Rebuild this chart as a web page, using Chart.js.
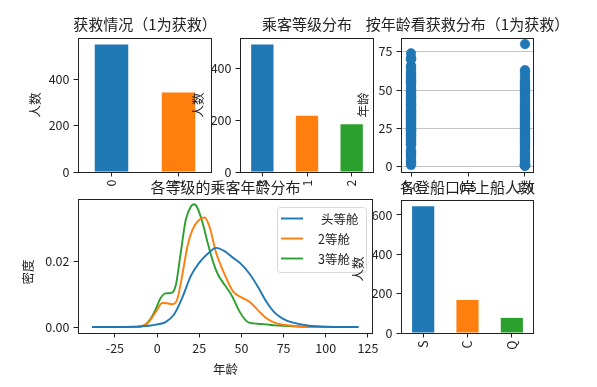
<!DOCTYPE html>
<html>
<head>
<meta charset="utf-8">
<script src="https://cdn.jsdelivr.net/npm/chart.js@4.4.1/dist/chart.umd.min.js"></script>
<style>
  html, body { margin: 0; padding: 0; background: #fff; }
  #wrap { position: relative; width: 597px; height: 387px; overflow: hidden; }
  #wrap canvas { position: absolute; left: 0; top: 0; }
</style>
</head>
<body>
<div id="wrap">
  <canvas id="c1" width="597" height="387"></canvas>
  <canvas id="c2" width="597" height="387"></canvas>
  <canvas id="c3" width="597" height="387"></canvas>
  <canvas id="c4" width="597" height="387"></canvas>
  <canvas id="c5" width="597" height="387"></canvas>
</div>
<script>
// data (Titanic train set)
const survivedLabels = ['0', '1'];
const survivedCounts = [549, 342];

const pclassLabels = ['3', '1', '2'];
const pclassCounts = [491, 216, 184];

const embarkedLabels = ['S', 'C', 'Q'];
const embarkedCounts = [644, 168, 77];

// ages of passengers by survival (distinct values)
const agesDied = [1, 2, 3, 4, 6, 7, 8, 9, 10, 11, 14, 14.5, 15, 16, 17, 18, 19, 20, 20.5, 21, 22, 23, 23.5, 24, 24.5,
  25, 26, 27, 28, 28.5, 29, 30, 30.5, 31, 32, 32.5, 33, 34, 34.5, 35, 36, 36.5, 37, 38, 39, 40, 40.5, 41, 42, 43, 44,
  45, 45.5, 46, 47, 48, 49, 50, 51, 52, 54, 55, 55.5, 56, 57, 58, 59, 60, 61, 62, 64, 65, 66, 70, 70.5, 71, 74];
const agesSurvived = [0.42, 0.67, 0.75, 0.83, 0.92, 1, 2, 3, 4, 5, 6, 7, 8, 9, 11, 12, 13, 14, 15, 16, 17, 18, 19, 20,
  21, 22, 23, 24, 25, 26, 27, 28, 29, 30, 31, 32, 32.5, 33, 34, 35, 36, 37, 38, 39, 40, 41, 42, 43, 44, 45, 47, 48, 49,
  50, 51, 52, 53, 54, 55, 56, 58, 60, 62, 63, 80];

// age density curves per class
const kdeLabels = ['头等舱', '2等舱', '3等舱'];
const kde1Age = [-38.6, -25, -15, -10, -5, 0, 5, 10, 15, 20, 25, 30, 35, 40, 45, 50, 55, 60, 65, 70, 75, 80, 90, 100, 119.5];
const kde1Den = [0, 0, 0.0001, 0.0002, 0.0004, 0.0008, 0.0015, 0.0038, 0.0090, 0.0155, 0.0195, 0.0222, 0.0240, 0.0230,
  0.0210, 0.0190, 0.0160, 0.0120, 0.0075, 0.0042, 0.0024, 0.0014, 0.0004, 0.0001, 0];
const kde2Age = [-34, -20, -10, -5, 0, 3, 6, 9, 12, 15, 18, 21, 25, 28, 31, 35, 40, 45, 50, 55, 60, 65, 70, 75, 80, 90, 104.7];
const kde2Den = [0, 0, 0.0002, 0.0015, 0.0052, 0.0073, 0.0072, 0.0069, 0.0085, 0.0160, 0.0245, 0.0295, 0.0325, 0.0332,
  0.0305, 0.0225, 0.0160, 0.0108, 0.0090, 0.0076, 0.0050, 0.0026, 0.0013, 0.0007, 0.0004, 0.0001, 0];
const kde3Age = [-36.4, -20, -10, -7, -4, -1, 2, 5, 8, 11, 14, 17, 20, 22, 24, 27, 30, 33, 36, 40, 44, 49, 53, 57, 63,
  70, 80, 90, 110.8];
const kde3Den = [0, 0, 0.0001, 0.0006, 0.0024, 0.0052, 0.0087, 0.0102, 0.0103, 0.0125, 0.0225, 0.0325, 0.0365, 0.0372,
  0.0360, 0.0315, 0.0255, 0.0200, 0.0160, 0.0128, 0.0098, 0.0046, 0.0018, 0.0011, 0.0009, 0.0005, 0.0002, 0.0001, 0];

// tick labels
const survTicks = [0, 200, 400];
const pclassTicks = [0, 200, 400];
const ageTicks = [0, 25, 50, 75];
const survXTicks = [0, 0.5, 1];
const kdeXTicks = [-25, 0, 25, 50, 75, 100, 125];
const kdeYTicks = [0, 0.02];
const embTicks = [0, 200, 400, 600];

const W = 597, H = 387;
const FONT = "'Noto Sans CJK SC', 'DejaVu Sans', sans-serif";
const INK = '#222';
const COLORS = ['#1f77b4', '#ff7f0e', '#2ca02c'];

Chart.defaults.font.family = FONT;
Chart.defaults.font.size = 12.5;
Chart.defaults.color = INK;

function toPoints(xs, ys) {
  return xs.map((x, i) => ({ x: x, y: ys[i] }));
}

function fixTicks(values) {
  return scale => { scale.ticks = values.map(v => ({ value: v })); };
}

function xAxis(box, extra) {
  return Object.assign({
    afterFit: s => { s.height = H - box.b; s.paddingLeft = 0; s.paddingRight = 0; },
    border: { display: false },
    grid: { drawOnChartArea: false, offset: false, tickLength: 4.5, tickColor: INK },
    ticks: { padding: 3, autoSkip: false, maxRotation: 0, minRotation: 0 }
  }, extra);
}

function yAxis(box, extra) {
  return Object.assign({
    afterFit: s => { s.width = box.l; s.paddingTop = 0; s.paddingBottom = 0; },
    border: { display: false },
    grid: { drawOnChartArea: false, tickLength: 4.5, tickColor: INK },
    ticks: { padding: 4 }
  }, extra);
}

// frame, title and axis labels drawn like matplotlib
function decor(d) {
  return {
    id: 'decor',
    afterDraw(chart) {
      const ctx = chart.ctx, a = chart.chartArea;
      ctx.save();
      ctx.strokeStyle = INK;
      ctx.lineWidth = 1;
      ctx.strokeRect(a.left + 0.5, a.top + 0.5, a.right - a.left - 1, a.bottom - a.top);
      if (d.extra) d.extra(ctx, a);
      ctx.fillStyle = INK;
      ctx.textAlign = 'center';
      ctx.textBaseline = 'middle';
      ctx.font = '15px ' + FONT;
      ctx.fillText(d.title, (a.left + a.right) / 2, d.titleY);
      ctx.font = '12.5px ' + FONT;
      if (d.xlabel) ctx.fillText(d.xlabel, (a.left + a.right) / 2, d.xlabelY);
      if (d.ylabel) {
        ctx.translate(d.ylabelX, d.ylabelY || (a.top + a.bottom) / 2);
        ctx.rotate(-Math.PI / 2);
        ctx.fillText(d.ylabel, 0, 0);
      }
      ctx.restore();
    }
  };
}

function baseOptions(box) {
  return {
    responsive: false,
    animation: false,
    devicePixelRatio: 1,
    events: [],
    layout: { padding: { top: box.t, right: W - box.r, left: 0, bottom: 0 } },
    plugins: { legend: { display: false }, tooltip: { enabled: false }, title: { display: false } }
  };
}

function barChart(id, box, labels, counts, ticks, ymax, d) {
  const opts = baseOptions(box);
  opts.scales = {
    x: xAxis(box, { ticks: { padding: 3, autoSkip: false, maxRotation: 90, minRotation: 90 } }),
    y: yAxis(box, { min: 0, max: ymax, afterBuildTicks: fixTicks(ticks) })
  };
  return new Chart(document.getElementById(id), {
    type: 'bar',
    data: {
      labels: labels,
      datasets: [{ data: counts, backgroundColor: COLORS.slice(0, counts.length),
        barPercentage: 0.5, categoryPercentage: 1 }]
    },
    options: opts,
    plugins: [decor(d)]
  });
}

// 1. survival counts
const box1 = { l: 78, t: 38, r: 212, b: 172 };
barChart('c1', box1, survivedLabels, survivedCounts, survTicks, 549 * 1.05,
  { title: '获救情况（1为获救）', titleY: 24, ylabel: '人数', ylabelX: 35 });

// 2. class counts
const box2 = { l: 240, t: 38, r: 374, b: 172 };
barChart('c2', box2, pclassLabels, pclassCounts, pclassTicks, 491 * 1.05,
  { title: '乘客等级分布', titleY: 24, ylabel: '人数', ylabelX: 198 });

// 3. age by survival
const box3 = { l: 401, t: 38, r: 534, b: 172 };
(function () {
  const opts = baseOptions(box3);
  opts.scales = {
    x: xAxis(box3, { type: 'linear', min: -0.088, max: 1.079, afterBuildTicks: fixTicks(survXTicks),
      ticks: { padding: 3, autoSkip: false, maxRotation: 0, callback: v => v.toFixed(1) } }),
    y: yAxis(box3, { min: -3.56, max: 83.98, afterBuildTicks: fixTicks(ageTicks),
      grid: { drawOnChartArea: true, color: '#c4c4c4', tickLength: 4.5, tickColor: INK } })
  };
  const dot = { backgroundColor: COLORS[0], borderColor: COLORS[0], borderWidth: 0.5, pointRadius: 4.8 };
  new Chart(document.getElementById('c3'), {
    type: 'scatter',
    data: {
      datasets: [
        Object.assign({ data: agesDied.map(a => ({ x: 0, y: a })) }, dot),
        Object.assign({ data: agesSurvived.map(a => ({ x: 1, y: a })) }, dot)
      ]
    },
    options: opts,
    plugins: [decor({ title: '按年龄看获救分布（1为获救）', titleY: 24, ylabel: '年龄', ylabelX: 363 })]
  });
})();

// 4. age density per class
const box4 = { l: 78, t: 199, r: 373, b: 333 };
(function () {
  const opts = baseOptions(box4);
  opts.scales = {
    x: xAxis(box4, { type: 'linear', min: -46.9, max: 128, afterBuildTicks: fixTicks(kdeXTicks) }),
    y: yAxis(box4, { min: -0.0018, max: 0.0388, afterBuildTicks: fixTicks(kdeYTicks),
      ticks: { padding: 4, callback: v => v.toFixed(2) } })
  };
  const series = [[kde1Age, kde1Den], [kde2Age, kde2Den], [kde3Age, kde3Den]];
  new Chart(document.getElementById('c4'), {
    type: 'line',
    data: {
      datasets: series.map((s, i) => ({
        label: kdeLabels[i], data: toPoints(s[0], s[1]), borderColor: COLORS[i], borderWidth: 1.9,
        pointRadius: 0, fill: false, cubicInterpolationMode: 'monotone'
      }))
    },
    options: opts,
    plugins: [decor({
      title: '各等级的乘客年龄分布', titleY: 187, xlabel: '年龄', xlabelY: 369, ylabel: '密度', ylabelX: 28, ylabelY: 272,
      extra: (ctx, a) => {
        // legend box, upper right
        ctx.save();
        ctx.globalAlpha = 0.8;
        ctx.fillStyle = '#fff';
        ctx.strokeStyle = '#d0d0d0';
        ctx.beginPath();
        ctx.roundRect(277.5, 207.5, 89, 65, 3);
        ctx.fill();
        ctx.stroke();
        ctx.restore();
        ctx.font = '12.5px ' + FONT;
        ctx.textBaseline = 'middle';
        ctx.textAlign = 'left';
        kdeLabels.forEach((lab, i) => {
          const y = 218.5 + i * 20;
          ctx.strokeStyle = COLORS[i];
          ctx.lineWidth = 1.9;
          ctx.beginPath();
          ctx.moveTo(281, y);
          ctx.lineTo(303, y);
          ctx.stroke();
          ctx.fillStyle = INK;
          ctx.fillText(lab, i === 0 ? 321 : 318, y + 1);
        });
      }
    })]
  });
})();

// 5. embarkation port counts
const box5 = { l: 401, t: 200, r: 534, b: 333 };
barChart('c5', box5, embarkedLabels, embarkedCounts, embTicks, 644 * 1.05,
  { title: '各登船口岸上船人数', titleY: 187, ylabel: '人数', ylabelX: 358, ylabelY: 269 });
</script>
</body>
</html>
